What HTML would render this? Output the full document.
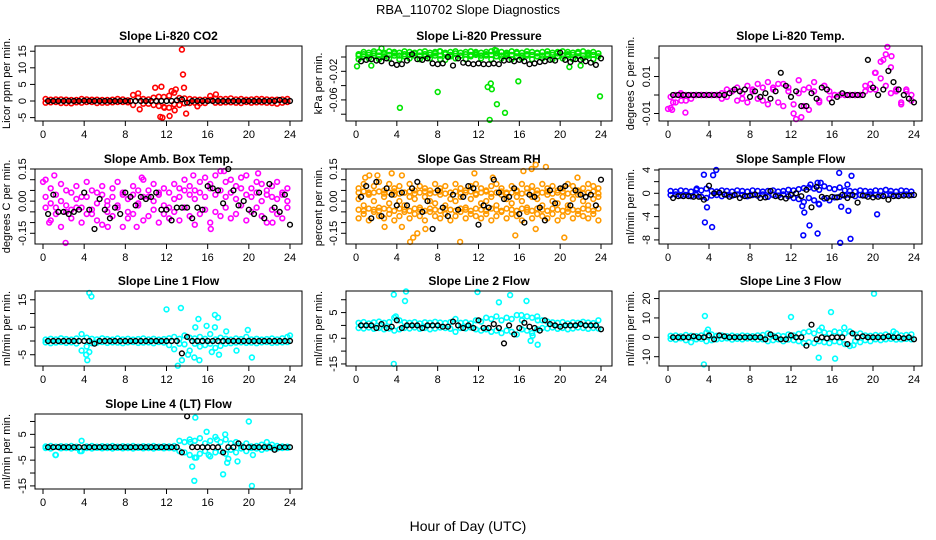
<!DOCTYPE html>
<html><head><meta charset="utf-8"><style>
body{margin:0;background:#fff}
svg{display:block;font-family:"Liberation Sans",sans-serif}
</style></head><body>
<svg id="chart" width="936" height="540" viewBox="0 0 936 540" xmlns="http://www.w3.org/2000/svg">
<text x="468" y="14" text-anchor="middle" font-size="13">RBA_110702  Slope Diagnostics</text>
<text x="468" y="531" text-anchor="middle" font-size="14">Hour of Day (UTC)</text>
</svg>
<script>
const hc=[0.25,0.75,1.25,1.75,2.25,2.75,3.25,3.75,4.25,4.75,5.25,5.75,6.25,6.75,7.25,7.75,8.25,8.75,9.25,9.75,10.25,10.75,11.25,11.75,12.25,12.75,13.25,13.75,14.25,14.75,15.25,15.75,16.25,16.75,17.25,17.75,18.25,18.75,19.25,19.75,20.25,20.75,21.25,21.75,22.25,22.75,23.25,23.75];
const hb=[0.5,1,1.5,2,2.5,3,3.5,4,4.5,5,5.5,6,6.5,7,7.5,8,8.5,9,9.5,10,10.5,11,11.5,12,12.5,13,13.5,14,14.5,15,15.5,16,16.5,17,17.5,18,18.5,19,19.5,20,20.5,21,21.5,22,22.5,23,23.5,24];
const xTicks=[0,4,8,12,16,20,24];

const co2C1=[0.6,-0.4,0.5,-0.6,0.4,-0.7,0.3,-0.5,0.5,-0.3,0.4,-0.5,0.3,-0.4,0.6,-0.3,0.2,-1.2,2.3,-0.8,0.5,1.0,-1.5,1.2,-2.0,2.5,-1.2,0.8,-0.6,0.5,-0.7,0.4,1.5,-0.5,0.6,-0.4,0.8,-0.5,0.6,-0.3,0.5,-0.4,0.6,-0.5,0.4,-0.8,0.5,-0.3];
const co2C2=[-0.5,0.4,-0.3,0.5,-0.6,0.3,-0.4,0.6,-0.3,0.4,-0.6,0.3,-0.5,0.4,-0.3,0.5,-0.4,1.8,1.0,0.6,-0.8,-1.2,1.3,-1.8,1.6,-1.0,0.9,-0.7,0.6,-0.5,0.4,-0.6,0.3,0.7,-0.5,0.6,-0.4,0.5,-0.6,0.4,-0.5,0.6,-0.4,0.5,-0.6,0.4,-0.5,0.6];
const co2OutH=[11.4,11.5,10.9,11.6,12.3,12.5,12.9,13.5,13.6,13.7,13.9,9.4,11.8,12.8,16.8,15.0];
const co2OutV=[-4.8,4.3,4.0,-5.0,-4.5,3.0,3.5,15.5,8.0,4.0,-3.8,-2.5,-2.0,-2.8,2.0,-1.6];
const co2B=[0,0,0,0,0,0,0,0.1,0,0,0,0,0,0,0,0,0,0,0,0,0,0,0,0,0,0.2,0.5,-0.5,0,0,0,0,0,0,0,0,0,0,0,0,0,0,0,0,0,0.3,0,0];

const prC1=[0.004,0.007,0.006,0.008,0.007,0.006,0.008,0.007,0.006,0.008,0.007,0.006,0.007,0.008,0.006,0.007,0.008,0.006,0.007,0.008,0.006,0.007,0.008,0.007,0.006,0.007,0.008,0.009,0.007,0.006,0.008,0.007,0.006,0.008,0.007,0.006,0.007,0.008,0.006,0.007,0.008,0.007,0.006,0.007,0.008,0.006,0.007,0.005];
const prC2=[-0.003,0.001,-0.002,0.002,-0.003,0.001,-0.002,0.002,-0.003,0.001,-0.002,0.002,-0.003,0.001,-0.002,0.002,-0.003,-0.004,0.001,-0.002,0.002,-0.003,0.001,0.003,-0.002,0.002,-0.003,0.001,-0.002,0.002,-0.003,0.001,-0.002,0.002,-0.003,0.001,-0.002,0.002,-0.003,0.001,-0.002,0.002,-0.003,0.001,-0.002,0.002,-0.003,0.001];
const prC3=[0.002,0.004,0.003,0.005,0.002,0.004,0.003,0.005,0.002,0.004,0.003,0.005,0.002,0.004,0.003,0.005,0.002,0.004,0.003,0.005,0.002,0.004,0.003,0.005,0.002,0.004,0.003,0.005,0.002,0.004,0.003,0.005,0.002,0.004,0.003,0.005,0.002,0.004,0.003,0.005,0.002,0.004,0.003,0.005,0.002,0.004,0.003,0.005];
const prOutH=[2.5,4.3,8.0,8.2,12.9,13.1,13.2,13.3,13.6,13.8,14.6,15.9,23.9,0.1,1.5,20.9,22.0];
const prOutV=[0.012,-0.071,-0.049,0.008,-0.042,-0.088,-0.037,-0.045,0.010,-0.066,-0.078,-0.034,-0.055,-0.013,-0.012,-0.014,-0.012];
const prB=[-0.006,-0.004,-0.003,-0.005,-0.006,-0.002,-0.009,-0.011,-0.010,-0.005,0.004,-0.003,-0.004,-0.002,-0.009,-0.010,-0.009,0.000,-0.012,-0.002,-0.008,-0.009,-0.010,-0.009,-0.010,-0.010,-0.009,-0.010,-0.005,-0.004,-0.006,-0.004,-0.006,-0.010,-0.009,-0.007,-0.006,-0.004,-0.005,0.006,-0.004,-0.007,-0.003,-0.004,-0.006,-0.008,-0.011,-0.002];

const tC1=[-0.001,0,0.001,0,-0.002,0,0,0,0,0,0.001,0.003,0.002,0.004,-0.002,0.005,0.003,0.006,-0.003,0.007,0.004,-0.004,0.006,0.002,-0.005,0.008,-0.006,0.004,0.007,-0.003,0.005,0.002,0,0,0,0,0,0,0.005,0.003,0.012,0.018,0.022,0.015,0.003,-0.004,0.002,-0.003];
const tC2=[-0.007,-0.004,0,-0.003,0,0,0,0,0,0,-0.002,-0.001,0.002,-0.003,0.001,-0.004,0.002,-0.002,0.004,-0.005,0.003,0.006,-0.006,0.004,-0.010,0.001,0.003,-0.008,0.002,-0.004,0.005,-0.002,0,0,0,0,0,0,0.002,0.006,0.003,0.009,0.005,0.001,0.002,-0.005,0.003,0.000];
const tOutH=[0.0,0.4,0.5,1.7,1.3,21.4,21.0,20.2,21.8,13.0,12.5];
const tOutV=[-0.0075,-0.008,-0.004,-0.0095,-0.003,0.026,0.019,0.012,0.021,-0.012,-0.013];
const tB=[0,0,0,0,0,0,0,0,0,0,0,0.001,0.003,0.002,0.003,-0.001,0.002,-0.001,0.001,-0.002,0.002,0.012,0.005,-0.001,0.002,-0.006,-0.006,0.001,-0.002,0.004,0.003,-0.004,-0.001,0.001,0,0,0,0,0.019,0.004,0,0.003,0.013,0.007,0.003,0.000,-0.002,-0.004];

const aC1=[0.10,0.06,-0.03,0.08,0.05,-0.04,0.07,0.02,0.09,-0.06,0.04,0.07,-0.02,0.06,0.09,0.03,-0.05,0.07,0.05,0.10,0.02,0.08,0.04,0.06,-0.03,0.08,0.06,0.10,0.07,0.05,0.09,0.11,0.08,0.12,0.14,0.09,0.10,0.07,0.11,0.12,0.06,0.09,0.08,0.05,0.07,0.09,0.04,0.06];
const aC2=[-0.03,-0.09,-0.06,-0.12,-0.05,-0.08,-0.03,-0.10,-0.06,-0.04,-0.09,-0.11,-0.05,-0.07,-0.03,-0.12,-0.08,-0.06,-0.02,-0.09,-0.07,-0.04,-0.10,-0.06,-0.08,-0.05,-0.09,-0.03,-0.07,-0.11,-0.06,-0.04,-0.10,-0.05,-0.07,-0.03,-0.08,-0.06,-0.02,-0.09,-0.05,-0.03,-0.07,-0.10,-0.04,-0.06,-0.08,-0.03];
const aC3=[0.02,-0.01,0.03,0.00,-0.02,0.04,0.01,-0.03,0.02,0.05,-0.01,0.03,0.00,0.02,-0.02,0.04,0.01,0.03,-0.01,0.02,0.05,0.00,0.03,-0.02,0.04,0.01,0.02,0.05,0.03,0.01,0.04,0.02,0.06,0.03,0.05,0.02,0.04,0.01,0.06,0.03,0.02,0.04,0.00,0.03,0.02,0.01,0.03,0.00];
const aOutH=[2.2,0.6,1.1,6.3,9.1,9.6,16.3,17.6,20.9,22.3,14.6,0.0];
const aOutV=[-0.195,-0.10,0.12,-0.12,-0.12,0.11,-0.13,0.14,0.13,-0.10,0.12,0.09];
const aB=[-0.06,0.03,-0.05,-0.05,-0.06,-0.05,-0.04,0.04,-0.04,-0.13,0.01,-0.04,-0.08,-0.03,-0.06,0.04,0.02,-0.02,0.02,0.01,0.02,0.04,-0.04,-0.04,-0.09,-0.03,-0.03,-0.03,-0.08,-0.03,-0.04,0.07,0.06,0.05,-0.01,0.15,0.05,-0.02,0.00,-0.04,-0.06,0.04,-0.08,0.08,-0.03,-0.05,0.03,-0.11];

const rC1=[0.06,0.08,0.04,0.07,0.09,0.05,0.08,0.06,0.07,0.04,0.08,0.05,0.07,0.06,0.05,0.08,0.06,0.07,0.04,0.08,0.06,0.05,0.07,0.08,0.06,0.05,0.07,0.08,0.06,0.04,0.07,0.05,0.08,0.06,0.07,0.05,0.08,0.06,0.07,0.05,0.06,0.08,0.07,0.05,0.06,0.08,0.07,0.06];
const rC2=[-0.08,-0.06,-0.09,-0.05,-0.07,-0.08,-0.06,-0.09,-0.07,-0.05,-0.08,-0.06,-0.07,-0.09,-0.05,-0.07,-0.08,-0.06,-0.09,-0.07,-0.05,-0.08,-0.06,-0.07,-0.08,-0.06,-0.09,-0.07,-0.05,-0.08,-0.06,-0.07,-0.09,-0.05,-0.08,-0.06,-0.07,-0.08,-0.06,-0.09,-0.07,-0.05,-0.08,-0.06,-0.07,-0.08,-0.06,-0.09];
const rC3=[0.01,-0.02,0.03,0.00,-0.03,0.02,-0.01,0.03,0.00,-0.02,0.02,0.01,-0.03,0.02,0.00,-0.01,0.03,-0.02,0.01,0.00,0.02,-0.03,0.01,0.03,-0.01,0.00,0.02,-0.02,0.03,0.01,-0.01,0.02,0.00,-0.03,0.02,0.01,-0.02,0.03,0.00,-0.01,0.02,-0.02,0.01,0.03,0.00,-0.02,0.01,0.02];
const rC4=[0.04,-0.045,0.035,-0.04,0.045,-0.035,0.04,-0.045,0.035,-0.04,0.045,-0.035,0.04,-0.045,0.035,-0.04,0.045,-0.035,0.04,-0.045,0.035,-0.04,0.045,-0.035,0.04,-0.045,0.035,-0.04,0.045,-0.035,0.04,-0.045,0.035,-0.04,0.045,-0.035,0.04,-0.045,0.035,-0.04,0.045,-0.035,0.04,-0.045,0.035,-0.04,0.045,-0.035];
const rC5=[-0.04,0.045,-0.035,0.04,-0.045,0.035,-0.04,0.045,-0.035,0.04,-0.045,0.035,-0.04,0.045,-0.035,0.04,-0.045,0.035,-0.04,0.045,-0.035,0.04,-0.045,0.035,-0.04,0.045,-0.035,0.04,-0.045,0.035,-0.04,0.045,-0.035,0.04,-0.045,0.035,-0.04,0.045,-0.035,0.04,-0.045,0.035,-0.04,0.045,-0.035,0.04,-0.045,0.035];
const rOutH=[0.9,1.3,2.1,3.5,4.5,2.8,4.5,5.3,5.6,6.0,6.8,10.2,11.6,13.4,15.6,16.4,17.2,17.6,18.6,20.4,21.7,17.6];
const rOutV=[0.11,0.12,0.12,0.13,0.12,-0.12,-0.12,-0.19,-0.17,-0.15,-0.13,-0.19,0.13,0.11,-0.16,0.14,0.15,0.17,0.16,-0.17,0.11,-0.13];
const rB=[0.02,0.07,-0.08,0.09,-0.07,0.06,0.03,-0.02,0.04,-0.02,0.06,0.09,-0.05,0.00,-0.13,0.05,-0.03,-0.07,0.03,-0.04,0.02,0.07,0.06,-0.11,-0.02,-0.03,0.10,0.04,0.01,0.02,0.06,-0.06,-0.10,0.03,0.02,-0.03,-0.09,0.05,-0.01,0.06,0.07,-0.02,0.05,0.03,0.02,0.03,-0.02,0.10];

const sC1=[0.4,0.3,0.5,0.4,0.3,0.6,0.5,0.8,0.4,0.3,0.5,0.4,0.3,0.5,0.4,0.3,0.5,0.4,0.3,0.4,0.5,0.3,0.4,0.6,0.5,0.7,0.9,1.0,0.8,0.6,1.2,0.9,0.7,1.0,0.5,0.4,0.3,0.5,0.4,0.3,0.5,0.4,0.6,0.4,0.3,0.5,0.4,0.3];
const sC2=[-0.3,-0.2,-0.4,-0.3,-0.5,-0.3,-0.6,-0.8,-0.4,-0.3,-0.5,-0.3,-0.4,-0.2,-0.3,-0.5,-0.3,-0.4,-0.2,-0.6,-0.3,-0.4,-0.2,-0.5,-0.8,-1.0,-1.5,-0.8,-1.2,-1.9,-0.9,-1.2,-0.7,-0.6,-0.4,-0.3,-0.5,-0.3,-0.4,-0.2,-0.3,-0.4,-0.3,-0.2,-0.4,-0.3,-0.2,-0.3];
const sOutH=[3.5,4.4,4.7,3.6,3.8,4.3,13.1,13.2,13.3,13.8,14.6,14.6,14.9,16.7,16.8,16.9,17.6,17.8,17.9,20.4,13.9,14.7,17.5,2.8];
const sOutV=[3.2,3.1,4.0,-5.0,-2.4,-5.8,-2.2,-7.2,-3.3,-5.5,-6.9,1.8,1.8,3.5,-8.5,-2.3,-3.0,-7.8,3.0,-3.6,1.5,-1.8,1.5,0.8];
const sB=[-0.8,-0.5,-0.5,-0.5,-0.6,-0.6,-1.1,1.3,0.0,0.1,-0.2,-0.6,-0.3,-0.8,-0.5,-0.4,-0.2,-0.8,-0.7,0.4,-0.5,-0.7,-0.9,-0.3,0.0,-0.5,0.6,-2.4,1.1,-0.6,-0.8,-0.6,-0.7,-0.3,-0.8,-0.3,-1.6,-0.4,-0.6,-0.7,-0.6,-0.5,-1.1,-0.5,-0.5,-0.4,-0.4,-0.3];

const l1C1=[0.5,0.8,0.6,1.0,0.7,0.5,0.9,2.5,1.2,0.8,0.6,1.0,0.7,0.5,0.9,0.6,0.8,0.5,0.7,0.9,0.6,0.8,0.5,0.7,1.0,1.5,0.8,2.0,1.2,0.9,1.5,0.8,2.5,0.6,1.2,0.8,0.5,0.9,0.7,1.5,0.6,0.8,0.5,0.7,0.9,0.6,1.0,1.5];
const l1C2=[-0.5,-0.8,-0.6,-0.4,-0.7,-0.5,-0.9,-3.5,-2.0,-0.8,-0.6,-0.4,-0.7,-0.5,-0.6,-0.8,-0.5,-0.4,-0.7,-0.6,-0.5,-0.8,-0.4,-0.6,-1.5,-3.0,-1.0,-1.2,-3.5,-1.0,-2.0,-1.5,-1.0,-2.5,-1.8,-1.0,-0.8,-0.6,-0.5,-0.7,-0.6,-0.8,-0.5,-0.4,-0.7,-0.6,-0.5,-0.4];
const l1OutH=[4.5,4.7,4.3,4.5,4.2,12.0,13.4,13.1,13.5,14.1,14.8,15.1,15.9,16.7,17.0,16.7,16.4,17.1,17.8,18.8,19.9,20.3,14.7,15.2,24.0];
const l1OutV=[17.5,16.2,-7.0,-4.0,-5.0,11.5,12.0,-9.0,-7.0,-5.0,5.0,8.0,5.5,9.5,8.5,5.0,-4.0,-5.0,3.5,-3.5,4.0,-6.0,-6.0,-7.0,2.0];
const l1B=[0,0,0,0,0,0,0,0,0,-1,0,0,0,0,0,0,0,0,0,0,0,0,0,0,0,0,-4.5,1.5,0,0,0,0,0,0,0,0,0,0,0,0,0,0,0,0,0,0,0,0];

const l2C1=[1.0,1.3,0.8,1.2,1.5,1.0,1.3,3.0,2.0,1.2,1.0,1.3,0.8,1.2,1.0,1.4,1.1,0.9,1.3,2.5,1.0,1.2,0.8,2.0,1.5,3.0,2.5,3.5,2.0,3.0,2.5,4.0,2.0,3.5,3.0,3.5,2.0,1.5,1.2,1.0,1.3,0.8,1.2,1.0,1.4,1.1,0.9,2.0];
const l2C2=[-1.0,-1.2,-0.8,-1.3,-1.0,-1.5,-1.2,-2.0,-1.5,-1.0,-1.2,-0.8,-1.3,-1.0,-1.5,-1.2,-0.8,-1.0,-1.3,-2.5,-1.0,-1.2,-0.8,-1.5,-2.0,-1.5,-2.5,-2.0,-3.0,-2.0,-2.5,-3.5,-1.5,-2.0,-3.0,-1.5,-1.0,-1.2,-0.8,-1.3,-1.0,-1.5,-1.2,-0.8,-1.0,-1.3,-1.0,-1.2];
const l2OutH=[3.7,4.9,4.8,3.7,11.9,14.0,15.1,16.7,17.1,17.3,17.8,3.9,16.2,17.8];
const l2OutV=[12.0,13.2,9.5,-15.0,13.0,9.0,11.8,9.5,-6.0,-4.0,-7.5,3.5,4.0,2.0];
const l2B=[0,0,0,-1.0,0.5,-1,-0.5,2,-1,0,0,0,-1,0,0,0,-0.5,-0.5,1.5,0,-1,0,-1,2,-1,-1,0.5,-1,-7,0,-3.5,-1,1,-0.5,-1,-2,2,0.5,0,-0.5,0,0,0,0.5,0,0,0,-1.5];

const l3C1=[0.8,1.0,0.5,1.2,0.8,0.6,1.0,2.5,1.5,0.8,1.0,0.6,0.9,0.5,1.0,0.8,0.6,1.0,1.2,2.0,0.8,1.0,0.6,1.5,1.0,1.8,2.5,3.0,2.0,3.5,2.5,2.0,3.0,2.5,2.0,3.0,1.5,2.0,1.0,0.8,1.2,1.0,1.5,0.8,2.0,1.0,1.2,1.5];
const l3C2=[-0.8,-1.2,-0.5,-1.5,-2.5,-1.0,-0.8,-2.0,-1.5,-1.0,-0.8,-0.5,-1.2,-0.8,-1.0,-0.6,-0.8,-1.2,-1.0,-2.0,-1.5,-1.0,-2.0,-1.2,-1.5,-2.0,-3.0,-2.5,-3.0,-2.0,-2.5,-3.0,-2.0,-2.5,-3.5,-4.5,-2.0,-2.5,-1.5,-2.0,-1.0,-1.5,-1.0,-0.8,-1.2,-1.0,-0.8,-1.0];
const l3OutH=[3.6,3.5,3.9,12.0,14.7,15.0,15.9,16.3,17.2,20.1,18.1,22.0];
const l3OutV=[11.0,-14.0,4.0,10.5,-10.5,5.0,13.0,-11.0,5.0,22.5,-4.0,3.0];
const l3B=[0,0,0,0,0.5,0,0,1,-1,1,0.5,0,0,0,0,0,0,0,-1,1.5,0,-1,-1,1,0,0,-4.3,6.5,-1,0,-0.5,0,0,0,-3.5,2,0,0.5,0,0,0,0,0.5,0,0,-0.5,0,-1];

const l4C1=[0.3,0.5,0.2,0.4,0.3,0.5,0.2,2.5,0.3,0.5,0.2,0.4,0.3,0.5,0.2,0.4,0.3,0.5,0.2,0.4,0.3,0.5,0.2,0.4,0.3,0.5,2.5,2.0,3.0,2.5,3.5,1.5,2.5,4.0,2.0,3.0,1.5,2.0,0.5,1.5,0.3,0.5,1.0,2.0,1.0,0.5,0.3,0.2];
const l4C2=[-0.3,-0.5,-3.0,-0.4,-0.3,-0.5,-0.2,-1.5,-0.3,-0.5,-0.2,-0.4,-0.3,-0.5,-0.2,-0.4,-0.3,-0.5,-0.2,-0.4,-0.3,-0.5,-0.2,-0.4,-0.3,-0.5,-1.5,-2.0,-3.0,-4.0,-2.5,-1.5,-3.5,-2.0,-1.5,-2.5,-1.0,-2.0,-0.5,-1.5,-0.3,-0.5,-1.0,-0.5,-0.3,-0.5,-0.3,-0.2];
const l4OutH=[1.2,3.6,14.8,14.5,14.7,14.9,15.9,16.1,16.9,17.5,17.7,17.9,18.0,18.9,20.0,20.3,20.4,14.3];
const l4OutV=[-3.0,-1.5,11.5,-7.5,-13.0,-4.0,6.0,-3.0,3.0,-10.5,5.0,-6.0,-4.5,-5.5,10.0,-15.0,-3.0,2.0];
const l4B=[0,0,0,0,0,0,0,0,0,0,0,0,0,0,0,0,0,0,0,0,0,0,0,0,0,0,-2,12,0,0,0,0,0,0,-2,0,0,1.5,0,0,0,0,0,0,-1,0,0,0];

const NS='http://www.w3.org/2000/svg';
const svg=document.getElementById('chart');
function mk(tag,attrs,parent){const e=document.createElementNS(NS,tag);for(const k in attrs)e.setAttribute(k,attrs[k]);(parent||svg).appendChild(e);return e;}

const cols=[{l:35,r:302,x0:43,x24:290,yt:10},{l:346,r:612,x0:356,x24:601,yt:322},{l:659,r:922,x0:668,x24:914,yt:634}];
const rows=[{t:46,b:121},{t:169,b:244},{t:291,b:366},{t:414,b:489}];

const panels=[
 {name:'co2',title:'Slope Li-820 CO2',ylab:'Licor ppm per min.',c:0,r:0,ymin:-6.02,ymax:16.57,color:'#ff0000',bands:[co2C1,co2C2],oh:co2OutH,ov:co2OutV,bl:co2B,ticks:[-5,0,5,10,15],labels:['-5','0','5','10','15']},
 {name:'pressure',title:'Slope Li-820 Pressure',ylab:'kPa per min.',c:1,r:0,ymin:-0.0895,ymax:0.0154,color:'#00e600',bands:[prC1,prC2,prC3],oh:prOutH,ov:prOutV,bl:prB,ticks:[0,-0.02,-0.04,-0.06,-0.08],labels:['','-0.02','','-0.06','']},
 {name:'li820-temp',title:'Slope Li-820 Temp.',ylab:'degrees C per min.',c:2,r:0,ymin:-0.01405,ymax:0.0265,color:'#ff00ff',bands:[tC1,tC2],oh:tOutH,ov:tOutV,bl:tB,ticks:[0.02,0.01,0,-0.01],labels:['','0.01','','-0.01']},
 {name:'amb-box-temp',title:'Slope Amb. Box Temp.',ylab:'degrees C per min.',c:0,r:1,ymin:-0.2,ymax:0.15,color:'#ff00ff',bands:[aC1,aC2,aC3],oh:aOutH,ov:aOutV,bl:aB,ticks:[0.15,0.10,0.05,0,-0.05,-0.10,-0.15],labels:['0.15','','','0.00','','','-0.15']},
 {name:'gas-stream-rh',title:'Slope Gas Stream RH',ylab:'percent per min.',c:1,r:1,ymin:-0.2,ymax:0.15,color:'#ff9a00',bands:[rC1,rC2,rC3,rC4,rC5],oh:rOutH,ov:rOutV,bl:rB,ticks:[0.15,0.10,0.05,0,-0.05,-0.10,-0.15],labels:['0.15','','','0.00','','','-0.15']},
 {name:'sample-flow',title:'Slope Sample Flow',ylab:'ml/min per min.',c:2,r:1,ymin:-8.7,ymax:4.17,color:'#0000ff',bands:[sC1,sC2],oh:sOutH,ov:sOutV,bl:sB,ticks:[4,2,0,-2,-4,-6,-8],labels:['4','','0','','-4','','-8']},
 {name:'line1-flow',title:'Slope Line 1 Flow',ylab:'ml/min per min.',c:0,r:2,ymin:-9.1,ymax:18.2,color:'#00ffff',bands:[l1C1,l1C2],oh:l1OutH,ov:l1OutV,bl:l1B,ticks:[15,10,5,0,-5],labels:['15','','5','','-5']},
 {name:'line2-flow',title:'Slope Line 2 Flow',ylab:'ml/min per min.',c:1,r:2,ymin:-15.8,ymax:13.4,color:'#00ffff',bands:[l2C1,l2C2],oh:l2OutH,ov:l2OutV,bl:l2B,ticks:[10,5,0,-5,-10,-15],labels:['','5','','-5','','-15']},
 {name:'line3-flow',title:'Slope Line 3 Flow',ylab:'ml/min per min.',c:2,r:2,ymin:-14.8,ymax:23.9,color:'#00ffff',bands:[l3C1,l3C2],oh:l3OutH,ov:l3OutV,bl:l3B,ticks:[20,10,0,-10],labels:['20','10','0','-10']},
 {name:'line4-flow',title:'Slope Line 4 (LT) Flow',ylab:'ml/min per min.',c:0,r:3,ymin:-16.2,ymax:12.9,color:'#00ffff',bands:[l4C1,l4C2],oh:l4OutH,ov:l4OutV,bl:l4B,ticks:[10,5,0,-5,-10,-15],labels:['','5','','-5','','-15']}
];

panels.forEach(p=>{
 const col=cols[p.c],row=rows[p.r];
 const g=mk('g',{});
 
 
 const xs=h=>col.x0+(col.x24-col.x0)*h/24;
 const ys=v=>row.b-(v-p.ymin)/(p.ymax-p.ymin)*(row.b-row.t);
 const cx=(col.l+col.r)/2;
 const t=mk('text',{x:cx,y:row.t-6,'text-anchor':'middle','font-size':12,'font-weight':'bold'},g);
 t.textContent=p.title;
 
 
 const cg=mk('g',{fill:'none',stroke:p.color,'stroke-width':1.6},g);
 
 
 p.bands.forEach(arr=>{arr.forEach((v,i)=>{if(i>=hc.length)return;
   const c=mk('circle',{cx:xs(hc[i]).toFixed(1),cy:ys(v).toFixed(1),r:2.4},cg);
   
   
 });});
 p.oh.forEach((h,i)=>{
   const c=mk('circle',{cx:xs(h).toFixed(1),cy:ys(p.ov[i]).toFixed(1),r:2.4},cg);
   
   
 });
 const bg=mk('g',{fill:'none',stroke:'#000','stroke-width':1.4},g);
 
 
 p.bl.forEach((v,i)=>{if(i>=hb.length)return;
   const c=mk('circle',{cx:xs(hb[i]).toFixed(1),cy:ys(v).toFixed(1),r:2.4},bg);
   
   
 });
 const box=mk('rect',{x:col.l,y:row.t,width:col.r-col.l,height:row.b-row.t,fill:'none',stroke:'#000','stroke-width':1},g);
 
 
 xTicks.forEach(h=>{
   const x=xs(h);
   mk('line',{x1:x,x2:x,y1:row.b,y2:row.b+5,stroke:'#000'},g);
   const tl=mk('text',{x:x,y:row.b+17,'text-anchor':'middle','font-size':11},g);
   tl.textContent=h;
   
   
 });
 p.ticks.forEach((v,i)=>{
   const y=ys(v);
   mk('line',{x1:col.l-5,x2:col.l,y1:y,y2:y,stroke:'#000'},g);
   if(p.labels[i]){
     const tl=mk('text',{x:col.l-9,y:y,'text-anchor':'middle','font-size':11,transform:`rotate(-90 ${col.l-9} ${y})`},g);
     tl.textContent=p.labels[i];
     
     
   }
 });
 const yc=(row.t+row.b)/2;
 const yl=mk('text',{x:col.yt,y:yc,'text-anchor':'middle','font-size':11,transform:`rotate(-90 ${col.yt} ${yc})`},g);
 yl.textContent=p.ylab;
 
 
});
</script>
</body></html>
